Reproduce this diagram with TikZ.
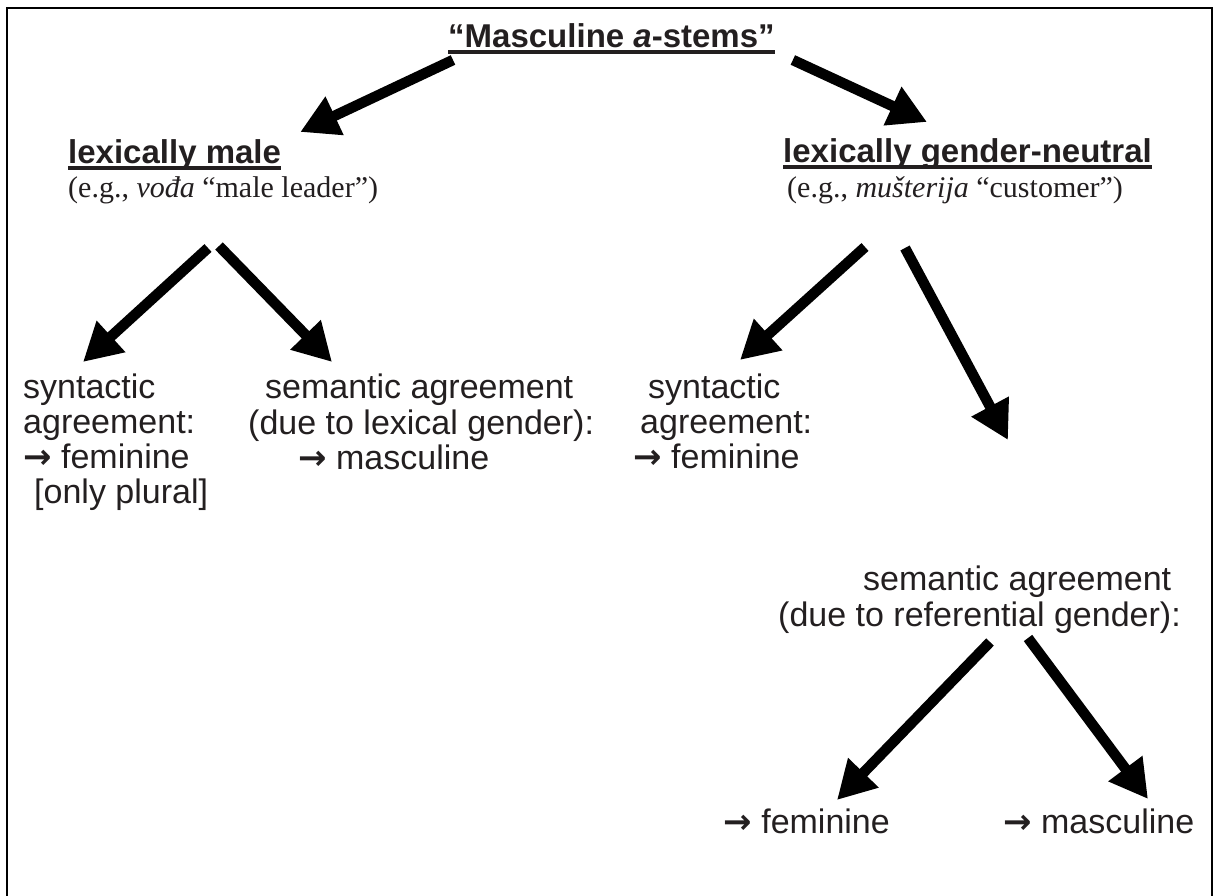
\documentclass[tikz,border=0pt]{standalone}
\usepackage{fontspec}
\setmainfont{Liberation Serif}
\setsansfont{Liberation Sans}
\newfontfamily\arrowfont{DejaVu Sans}
\usetikzlibrary{arrows.meta}
\definecolor{ink}{HTML}{231F20}
\newcommand{\ulbox}[1]{\setbox0\hbox{#1}\rlap{\rule[-5.7pt]{\wd0}{3.2pt}}\box0}
\newcommand{\toarr}{{\arrowfont\bfseries\fontsize{34}{35}\selectfont →}}
\tikzset{
    hdr/.style = {font=\sffamily\bfseries\fontsize{33}{35}\selectfont, inner sep=0pt, text=ink},
    eg/.style = {font=\rmfamily\fontsize{30}{32}\selectfont, inner sep=0pt, text=ink},
    txt/.style = {font=\sffamily\fontsize{34}{35}\selectfont, inner sep=0pt, align=left, text=ink},
    bigarrow/.style = {line width=10.5pt, -{Triangle[length=38pt,width=40pt]}},
    frame/.style = {line width=2.5pt}
}
\begin{document}
\begin{tikzpicture}[x=1pt,y=-1pt]
\useasboundingbox (0,0) rectangle (1217,896);
\draw[frame] (7,8) rectangle (1212,905);
%
\node[hdr,anchor=base west] at (448,48) (title) {\ulbox{“Masculine \textit{a}-stems”}};
\node[hdr,anchor=base west] at (68,164) (male) {\ulbox{lexically male}};
\node[eg,anchor=base west] at (68,197) (maleex) {(e.g., \textit{vođa} “male leader”)};
\node[hdr,anchor=base west] at (783,163) (neutral) {\ulbox{lexically gender-neutral}};
\node[eg,anchor=base west] at (787,197) (neutralex) {(e.g., \textit{mušterija} “customer”)};
%
\node[txt,anchor=north west] at (23,373.5) (synL) {\strut syntactic\\agreement:\\\toarr\ feminine\\\hspace*{11pt}[only plural]};
\node[txt,anchor=north west] at (248,373.5) (semL) {\strut\hspace*{17pt}semantic agreement\\(due to lexical gender):\\\hspace*{50pt}\toarr\ masculine};
\node[txt,anchor=north west] at (633,373.5) (synM) {\strut\hspace*{15pt}syntactic\\\hspace*{7pt}agreement:\\\toarr\ feminine};
\node[txt,anchor=north west] at (778,565.5) (semR) {\strut\hspace*{85pt}semantic agreement\\(due to referential gender):};
\node[txt,anchor=base east] at (890,833) (femB) {\toarr\ feminine};
\node[txt,anchor=base west] at (1003,833) (mascB) {\toarr\ masculine};
%
\draw[bigarrow] ([shift={(5,12)}]title.base west) -- ([shift={(19,-32)}]male.base east);
\draw[bigarrow] ([shift={(18,12)}]title.base east) -- ([shift={(144,-41)}]neutral.base west);
\draw[bigarrow] ([shift={(140,51)}]maleex.base west) -- ([shift={(60,-11.5)}]synL.north west);
\draw[bigarrow] ([shift={(151,49)}]maleex.base west) -- ([shift={(84,-11.5)}]semL.north west);
\draw[bigarrow] ([shift={(78,50)}]neutralex.base west) -- ([shift={(107,-13.5)}]synM.north west);
\draw[bigarrow] ([shift={(118,51)}]neutralex.base west) -- ([shift={(230,-125.5)}]semR.north west);
\draw[bigarrow] ([shift={(212,76.5)}]semR.north west) -- ([shift={(-53,-33)}]femB.base east);
\draw[bigarrow] ([shift={(250,72.5)}]semR.north west) -- ([shift={(145,-34)}]mascB.base west);

\end{tikzpicture}
\end{document}
